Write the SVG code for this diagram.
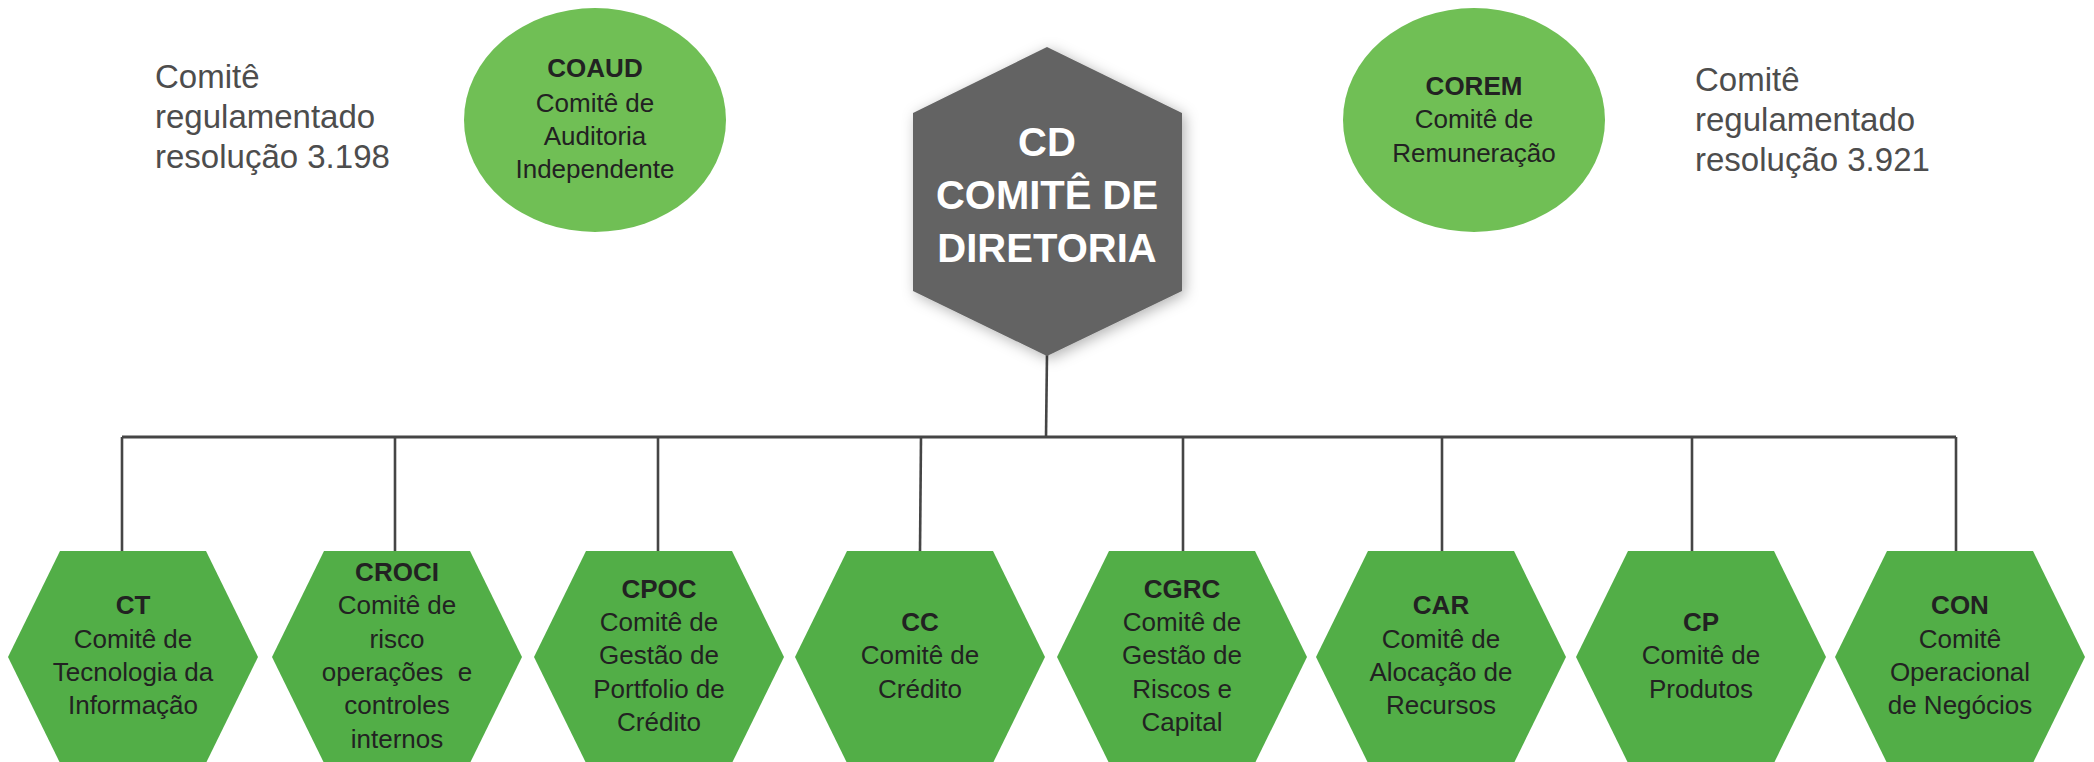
<svg xmlns="http://www.w3.org/2000/svg" width="2094" height="762" viewBox="0 0 2094 762">
<style>
text{font-family:"Liberation Sans",Arial,sans-serif;text-anchor:middle}
.side{font-size:33px;fill:#4d4d4d;text-anchor:start}
.nt{font-size:26px;fill:#222}
.b{font-weight:bold}
.cd{font-size:40px;font-weight:bold;fill:#fff}
.ell{fill:#70bf55}
.hex{fill:#52ae47}
.ln{stroke:#454545;fill:none;stroke-width:2.6}
</style>
<defs>
<filter id="sh" x="-20%" y="-20%" width="140%" height="140%">
<feDropShadow dx="3" dy="3" stdDeviation="7" flood-color="#000" flood-opacity="0.3"/>
</filter>
<polygon id="hx" points="-73,551 73,551 125,657 73,763 -73,763 -125,657"/>
</defs>
<rect width="2094" height="762" fill="#fff"/>

<g id="note-left">
<text class="side" x="155" y="88">Comitê</text>
<text class="side" x="155" y="128">regulamentado</text>
<text class="side" x="155" y="168">resolução 3.198</text>
</g>
<g id="note-right">
<text class="side" x="1695" y="91">Comitê</text>
<text class="side" x="1695" y="131">regulamentado</text>
<text class="side" x="1695" y="171">resolução 3.921</text>
</g>

<g id="connectors" class="ln">
<line x1="1047" y1="354" x2="1046" y2="437"/>
<line x1="122" y1="437" x2="1956" y2="437" stroke-width="3"/>
<line x1="122" y1="437" x2="122" y2="552"/>
<line x1="395" y1="437" x2="395" y2="552"/>
<line x1="658" y1="437" x2="658" y2="552"/>
<line x1="921" y1="437" x2="920" y2="552"/>
<line x1="1183" y1="437" x2="1183" y2="552"/>
<line x1="1442" y1="437" x2="1442" y2="552"/>
<line x1="1692" y1="437" x2="1692" y2="552"/>
<line x1="1956" y1="437" x2="1956" y2="552"/>
</g>

<g id="COAUD">
<ellipse class="ell" cx="595" cy="120" rx="131" ry="112"/>
<text class="nt b" x="595" y="77">COAUD</text>
<text class="nt" x="595" y="112">Comitê de</text>
<text class="nt" x="595" y="145">Auditoria</text>
<text class="nt" x="595" y="178">Independente</text>
</g>

<g id="COREM">
<ellipse class="ell" cx="1474" cy="120" rx="131" ry="112"/>
<text class="nt b" x="1474" y="95">COREM</text>
<text class="nt" x="1474" y="128">Comitê de</text>
<text class="nt" x="1474" y="162">Remuneração</text>
</g>

<g id="CD">
<polygon points="1047,47 1182,113 1182,291 1047,356 913,291 913,113" fill="#636363" filter="url(#sh)"/>
<text class="cd" x="1047" y="156">CD</text>
<text class="cd" x="1047" y="209">COMITÊ DE</text>
<text class="cd" x="1047" y="262">DIRETORIA</text>
</g>

<g id="CT">
<use href="#hx" class="hex" x="133"/>
<text class="nt b" x="133" y="614">CT</text>
<text class="nt" x="133" y="648">Comitê de</text>
<text class="nt" x="133" y="681">Tecnologia da</text>
<text class="nt" x="133" y="714">Informação</text>
</g>

<g id="CROCI">
<use href="#hx" class="hex" x="397"/>
<text class="nt b" x="397" y="581">CROCI</text>
<text class="nt" x="397" y="614">Comitê de</text>
<text class="nt" x="397" y="648">risco</text>
<text class="nt" x="397" y="681" xml:space="preserve">operações  e</text>
<text class="nt" x="397" y="714">controles</text>
<text class="nt" x="397" y="748">internos</text>
</g>

<g id="CPOC">
<use href="#hx" class="hex" x="659"/>
<text class="nt b" x="659" y="598">CPOC</text>
<text class="nt" x="659" y="631">Comitê de</text>
<text class="nt" x="659" y="664">Gestão de</text>
<text class="nt" x="659" y="698">Portfolio de</text>
<text class="nt" x="659" y="731">Crédito</text>
</g>

<g id="CC">
<use href="#hx" class="hex" x="920"/>
<text class="nt b" x="920" y="631">CC</text>
<text class="nt" x="920" y="664">Comitê de</text>
<text class="nt" x="920" y="698">Crédito</text>
</g>

<g id="CGRC">
<use href="#hx" class="hex" x="1182"/>
<text class="nt b" x="1182" y="598">CGRC</text>
<text class="nt" x="1182" y="631">Comitê de</text>
<text class="nt" x="1182" y="664">Gestão de</text>
<text class="nt" x="1182" y="698">Riscos e</text>
<text class="nt" x="1182" y="731">Capital</text>
</g>

<g id="CAR">
<use href="#hx" class="hex" x="1441"/>
<text class="nt b" x="1441" y="614">CAR</text>
<text class="nt" x="1441" y="648">Comitê de</text>
<text class="nt" x="1441" y="681">Alocação de</text>
<text class="nt" x="1441" y="714">Recursos</text>
</g>

<g id="CP">
<use href="#hx" class="hex" x="1701"/>
<text class="nt b" x="1701" y="631">CP</text>
<text class="nt" x="1701" y="664">Comitê de</text>
<text class="nt" x="1701" y="698">Produtos</text>
</g>

<g id="CON">
<use href="#hx" class="hex" x="1960"/>
<text class="nt b" x="1960" y="614">CON</text>
<text class="nt" x="1960" y="648">Comitê</text>
<text class="nt" x="1960" y="681">Operacional</text>
<text class="nt" x="1960" y="714">de Negócios</text>
</g>
</svg>
